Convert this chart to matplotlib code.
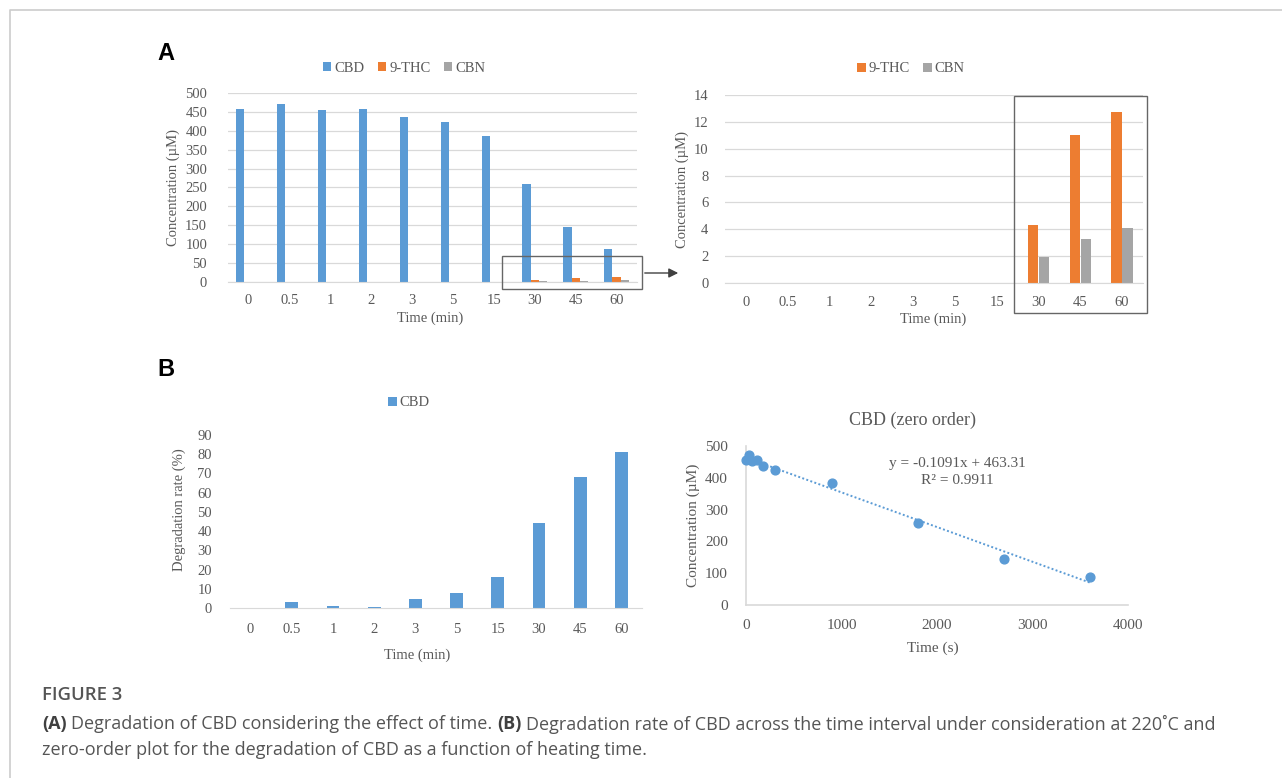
import matplotlib
matplotlib.use("Agg")
import matplotlib.pyplot as plt
from matplotlib.patches import Patch, Rectangle, FancyArrowPatch
from matplotlib.lines import Line2D
import numpy as np

W, H = 1282, 778
DPI = 100

# data
time_labels = ["0", "0.5", "1", "2", "3", "5", "15", "30", "45", "60"]
time_seconds = [0, 30, 60, 120, 180, 300, 900, 1800, 2700, 3600]
cbd_conc = [457, 471, 454, 457, 436, 423, 385, 258, 145, 87]
thc_conc = [0, 0, 0, 0, 0, 0, 0, 4.3, 11.0, 12.7]
cbn_conc = [0, 0, 0, 0, 0, 0, 0, 1.9, 3.3, 4.1]
cbd_degradation = [0, 3.0, 0.8, 0.3, 4.8, 7.6, 16.0, 44.0, 68.2, 81.0]
fit_slope = -0.1091
fit_intercept = 463.31
fit_r2 = 0.9911

BLUE = "#5B9BD5"
ORANGE = "#ED7D31"
GRAY = "#A5A5A5"
TXT = "#595959"
GRID = "#D9D9D9"
SERIF = ["Liberation Serif", "DejaVu Serif"]
SANS = ["Open Sans", "DejaVu Sans"]

plt.rcParams["font.family"] = SERIF

fig = plt.figure(figsize=(W / DPI, H / DPI), dpi=DPI)


def fx(x):
    return x / W


def fy(y):
    return 1 - y / H


def px_axes(x0, y0, x1, y1):
    return fig.add_axes([fx(x0), fy(y1), (x1 - x0) / W, (y1 - y0) / H])


def ftext(x, y, s, **kw):
    kw.setdefault("ha", "center")
    kw.setdefault("va", "center")
    kw.setdefault("color", TXT)
    return fig.text(fx(x), fy(y), s, **kw)


def style_bar_axes(ax, grid=True, ypad=11, xpad=9):
    for s in ["top", "right", "left"]:
        ax.spines[s].set_visible(False)
    ax.spines["bottom"].set_color(GRID)
    ax.tick_params(axis="both", length=0, colors=TXT, labelsize=10.5)
    ax.tick_params(axis="y", pad=ypad)
    ax.tick_params(axis="x", pad=xpad)
    if grid:
        ax.yaxis.grid(True, color=GRID, lw=0.9)
        ax.set_axisbelow(True)


def legend_at(x, y, items):
    handles = [Patch(facecolor=c, edgecolor="none", label=l) for l, c in items]
    fig.legend(handles=handles, loc="center", bbox_to_anchor=(fx(x), fy(y)),
               ncol=len(items), frameon=False, fontsize=10.5, handlelength=0.6,
               handleheight=0.6, handletextpad=0.2, columnspacing=0.9,
               labelcolor=TXT)


x = np.arange(len(time_labels))

# ---- A left: all compounds
ax1 = px_axes(228, 93, 637, 282)
ax1.bar(x - 0.2, cbd_conc, 0.2, color=BLUE)
ax1.bar(x, thc_conc, 0.2, color=ORANGE)
ax1.bar(x + 0.2, cbn_conc, 0.2, color=GRAY)
ax1.set_xlim(-0.5, len(x) - 0.5)
ax1.set_ylim(0, 500)
ax1.set_yticks(range(0, 501, 50))
ax1.set_xticks(x, time_labels)
style_bar_axes(ax1, ypad=15, xpad=9)
ftext(173, 188, "Concentration (µM)", rotation=90, fontsize=10.5)
ftext(430, 318, "Time (min)", fontsize=10.5)
legend_at(404, 68, [("CBD", BLUE), ("9-THC", ORANGE), ("CBN", GRAY)])

# ---- A right: zoom on THC / CBN
ax2 = px_axes(725, 95, 1143, 283)
ax2.bar(x - 0.13, thc_conc, 0.25, color=ORANGE)
ax2.bar(x + 0.13, cbn_conc, 0.25, color=GRAY)
ax2.set_xlim(-0.5, len(x) - 0.5)
ax2.set_ylim(0, 14)
ax2.set_yticks(range(0, 15, 2))
ax2.set_xticks(x, time_labels)
style_bar_axes(ax2, ypad=12, xpad=9)
ftext(682, 189, "Concentration (µM)", rotation=90, fontsize=10.5)
ftext(933, 319, "Time (min)", fontsize=10.5)
legend_at(911, 69, [("9-THC", ORANGE), ("CBN", GRAY)])

# highlight boxes and arrow
for (bx0, by0, bx1, by1) in [(502, 256, 642, 289), (1014, 96, 1147, 313)]:
    fig.add_artist(Rectangle((fx(bx0), fy(by1)), (bx1 - bx0) / W, (by1 - by0) / H,
                             transform=fig.transFigure, fill=False,
                             edgecolor="#666666", lw=1.0))
fig.add_artist(FancyArrowPatch((fx(642), fy(273)), (fx(681), fy(273)),
                               transform=fig.transFigure, arrowstyle="-|>",
                               mutation_scale=14, color="#404040", lw=1.0))

# ---- B left: degradation rate
ax3 = px_axes(230, 435, 642, 608)
ax3.bar(x, cbd_degradation, 0.31, color=BLUE)
ax3.set_xlim(-0.5, len(x) - 0.5)
ax3.set_ylim(0, 90)
ax3.set_yticks(range(0, 91, 10))
ax3.set_xticks(x, time_labels)
style_bar_axes(ax3, grid=False, ypad=13, xpad=11)
ftext(179, 510, "Degradation rate (%)", rotation=90, fontsize=10.5)
ftext(417, 655, "Time (min)", fontsize=10.5)
legend_at(409, 403, [("CBD", BLUE)])

# ---- B right: zero order fit
ax4 = px_axes(746, 446, 1128, 605)
ax4.scatter(time_seconds, cbd_conc, s=40, color=BLUE, zorder=3, clip_on=False)
fit_x = np.array([time_seconds[0], time_seconds[-1]])
ax4.plot(fit_x, fit_slope * fit_x + fit_intercept, ls=(0, (1, 1.2)), lw=1.4, color=BLUE)
ax4.set_xlim(0, 4000)
ax4.set_ylim(0, 500)
ax4.set_xticks(range(0, 4001, 1000))
ax4.set_yticks(range(0, 501, 100))
for s in ["top", "right"]:
    ax4.spines[s].set_visible(False)
for s in ["left", "bottom"]:
    ax4.spines[s].set_color(GRID)
    ax4.spines[s].set_linewidth(1.2)
ax4.tick_params(axis="both", length=0, colors=TXT, labelsize=11)
ax4.tick_params(axis="y", pad=13)
ax4.tick_params(axis="x", pad=10)
ftext(913, 420, "CBD (zero order)", fontsize=13)
ftext(957, 463, f"y = {fit_slope}x + {fit_intercept}", fontsize=11)
ftext(957, 480, f"R² = {fit_r2}", fontsize=11)
ftext(933, 648, "Time (s)", fontsize=11)
ftext(693, 525, "Concentration (µM)", rotation=90, fontsize=11)

# panel letters
ftext(166, 53, "A", fontsize=17, weight="bold", color="black", family=["Liberation Sans"])
ftext(166, 369, "B", fontsize=17, weight="bold", color="black", family=["Liberation Sans"])

# page border
fig.add_artist(Line2D([fx(10), fx(10), fx(W)], [0, fy(10), fy(10)],
                      transform=fig.transFigure, color="#CCCCCC", lw=1.2))

# caption
renderer = fig.canvas.get_renderer()


def draw_runs(x0, y, runs, size=13.0):
    cur = x0
    a = fig.text(0, 0, "a a", fontsize=size, family=SANS)
    b = fig.text(0, 0, "aa", fontsize=size, family=SANS)
    sp = a.get_window_extent(renderer=renderer).width - b.get_window_extent(renderer=renderer).width
    a.remove()
    b.remove()
    for s, bold in runs:
        t = ftext(cur, y, s, ha="left", fontsize=size, family=SANS,
                  weight="bold" if bold else "normal",
                  color="#404040" if bold else "#555555")
        cur += t.get_window_extent(renderer=renderer).width + sp


ftext(42, 695, "FIGURE 3", ha="left", fontsize=13.3, family=SANS, weight="semibold", color="#555555")
draw_runs(42, 724, [("(A)", True), ("Degradation of CBD considering the effect of time.", False),
                    ("(B)", True),
                    ("Degradation rate of CBD across the time interval under consideration at 220˚C and", False)])
draw_runs(42, 750, [("zero-order plot for the degradation of CBD as a function of heating time.", False)])

fig.savefig("out.png", dpi=DPI)
